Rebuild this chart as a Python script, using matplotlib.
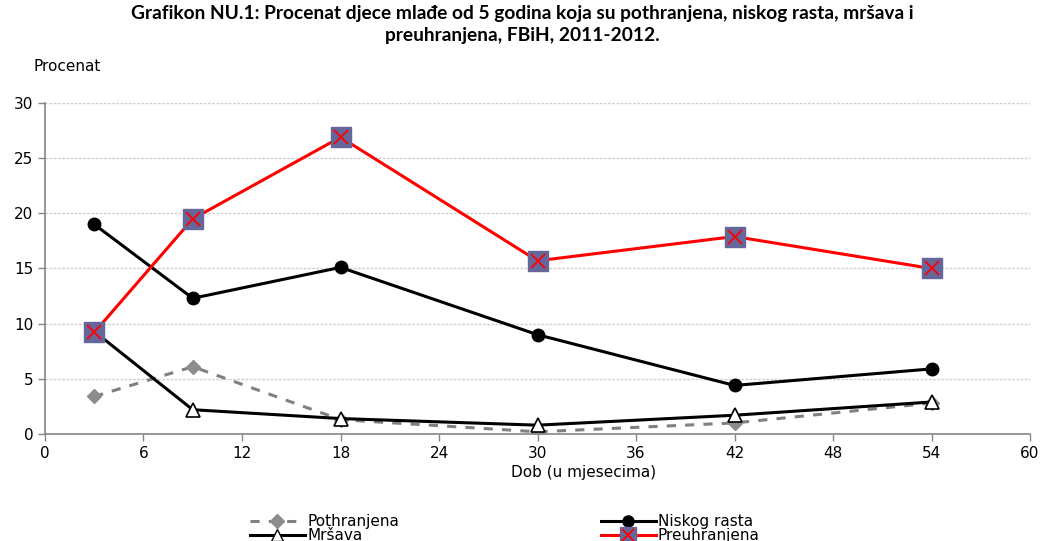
import matplotlib.pyplot as plt
from matplotlib.lines import Line2D

plt.rcParams['font.family'] = ['DejaVu Sans']

# age in months
dob = [3, 9, 18, 30, 42, 54]

pothranjena = [3.4, 6.1, 1.3, 0.2, 1.0, 2.8]
niskog_rasta = [19.0, 12.3, 15.1, 9.0, 4.4, 5.9]
mrsava = [9.3, 2.2, 1.4, 0.8, 1.7, 2.9]
preuhranjena = [9.2, 19.5, 26.9, 15.7, 17.9, 15.0]

fig = plt.figure(figsize=(10.44, 5.41), dpi=100)
ax = fig.add_axes([0.0431, 0.1978, 0.9435, 0.6118])

ax.plot(dob, pothranjena, color='#808080', lw=2.2, ls=(0, (3, 3)),
        marker='D', ms=7, mfc='#8c8c8c', mec='#8c8c8c', zorder=3)
ax.plot(dob, niskog_rasta, color='black', lw=2.2,
        marker='o', ms=9, mfc='black', mec='black', zorder=4)
ax.plot(dob, mrsava, color='black', lw=2.2,
        marker='^', ms=10, mfc='white', mec='black', mew=1.2, zorder=5)
ax.plot(dob, preuhranjena, color='red', lw=2.2, zorder=6)
ax.plot(dob, preuhranjena, ls='none', marker='s', ms=14, mfc='#65679a', mec='#65679a', zorder=7)
ax.plot(dob, preuhranjena, ls='none', marker='x', ms=10, mew=1.3, color='red', zorder=8)

ax.set_xlim(0, 60)
ax.set_ylim(0, 30)
ax.set_xticks(range(0, 61, 6))
ax.set_yticks(range(0, 31, 5))
ax.tick_params(labelsize=11, length=5, color='#868686', width=1)
ax.grid(axis='y', color='#cfcfcf', ls=(0, (2, 1)), lw=1)
ax.set_axisbelow(True)
for s in ['top', 'right']:
    ax.spines[s].set_visible(False)
for s in ['left', 'bottom']:
    ax.spines[s].set_color('#868686')
    ax.spines[s].set_linewidth(1.2)

ax.set_xlabel('Dob (u mjesecima)', fontsize=11, labelpad=2)
ax.xaxis.set_label_coords(0.547, -0.095)
fig.text(0.032, 0.868, 'Procenat', fontsize=11)
fig.suptitle('Grafikon NU.1: Procenat djece mlađe od 5 godina koja su pothranjena, niskog rasta, mršava i\n'
             'preuhranjena, FBiH, 2011-2012.', fontsize=13.8, fontweight='bold',
             family='Lato', y=0.99, linespacing=1.35)

# legend handles; Preuhranjena uses a square with a cross on top
h_poth = Line2D([], [], color='#808080', lw=2.2, ls=(0, (3, 3)), marker='D', ms=7,
                mfc='#8c8c8c', mec='#8c8c8c')
h_nisk = Line2D([], [], color='black', lw=2.2, marker='o', ms=8, mfc='black')
h_mrs = Line2D([], [], color='black', lw=2.2, marker='^', ms=9, mfc='white', mec='black')
h_pre_l = Line2D([], [], color='red', lw=2.2, marker='s', ms=12, mfc='#65679a', mec='#65679a')
h_pre_x = Line2D([], [], ls='none', marker='x', ms=9, mew=1.3, color='red')

fig.legend([h_poth, h_mrs, h_nisk, (h_pre_l, h_pre_x)],
           ['Pothranjena', 'Mršava', 'Niskog rasta', 'Preuhranjena'],
           ncol=2, loc='upper left', bbox_to_anchor=(0.232, 0.064), frameon=False,
           fontsize=11, handlelength=3.6, handletextpad=0.15, columnspacing=13.2,
           labelspacing=-0.05, borderpad=0)

fig.savefig('out.png', dpi=100)
